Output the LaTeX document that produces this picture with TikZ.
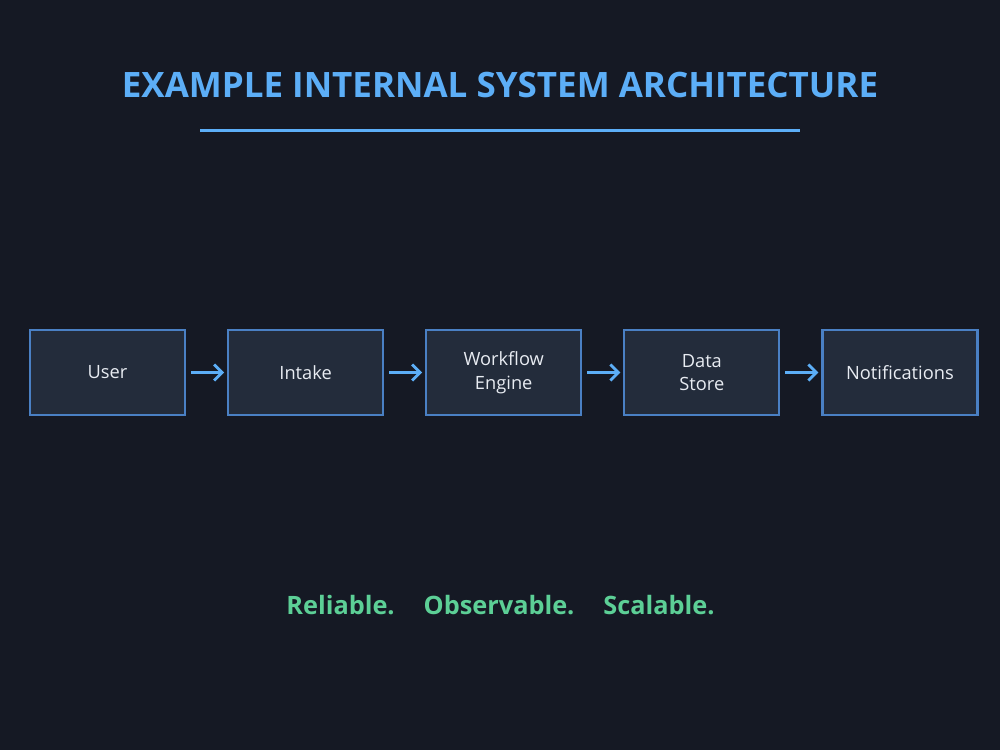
\documentclass[tikz,border=0pt]{standalone}
\usepackage{fontspec}
\setmainfont{Open Sans}
\usetikzlibrary{arrows.meta,positioning}
\definecolor{Night}{HTML}{151924}
\definecolor{Slate}{HTML}{232C3B}
\definecolor{EdgeBlue}{HTML}{4A80C4}
\definecolor{Sky}{HTML}{5CAEF7}
\definecolor{Mint}{HTML}{5CCF96}
\definecolor{Paper}{HTML}{E8ECF2}
\tikzset{
  stage/.style={draw=EdgeBlue, fill=Slate, line width=1.2pt, minimum width=3.1cm, minimum height=1.7cm, inner sep=1mm, align=center, text=Paper, font=\fontsize{10.4}{13.5}\selectfont},
  flow/.style={-{Straight Barb[length=1.6mm,width=3.2mm]}, line width=1.6pt, draw=Sky, shorten <=1mm, shorten >=0.6mm}
}
\begin{document}
\begin{tikzpicture}[node distance=0.82cm]
\fill[Night] (0,0) rectangle (20,-15);
\useasboundingbox (0,0) rectangle (20,-15);
\node[text=Sky, font=\fontsize{19.9}{24}\selectfont\bfseries] (title) at (10,-1.7) {EXAMPLE INTERNAL SYSTEM ARCHITECTURE};
\draw[Sky, line width=1.7pt] (4,-2.6) -- (16,-2.6);
\node[stage] (user) at (2.15,-7.45) {User};
\node[stage,right=of user] (intake) {Intake};
\node[stage,right=of intake] (engine) {Workflow\\Engine};
\node[stage,right=of engine] (store) {Data\\Store};
\node[stage,right=of store] (notify) {Notifications};
\draw[flow] (user) -- (intake);
\draw[flow] (intake) -- (engine);
\draw[flow] (engine) -- (store);
\draw[flow] (store) -- (notify);
\node[text=Mint, font=\fontsize{14.4}{17}\selectfont\bfseries] (motto) at (10.01,-12.1) {Reliable.\hspace{0.58cm}Observable.\hspace{0.58cm}Scalable.};
\end{tikzpicture}
\end{document}
